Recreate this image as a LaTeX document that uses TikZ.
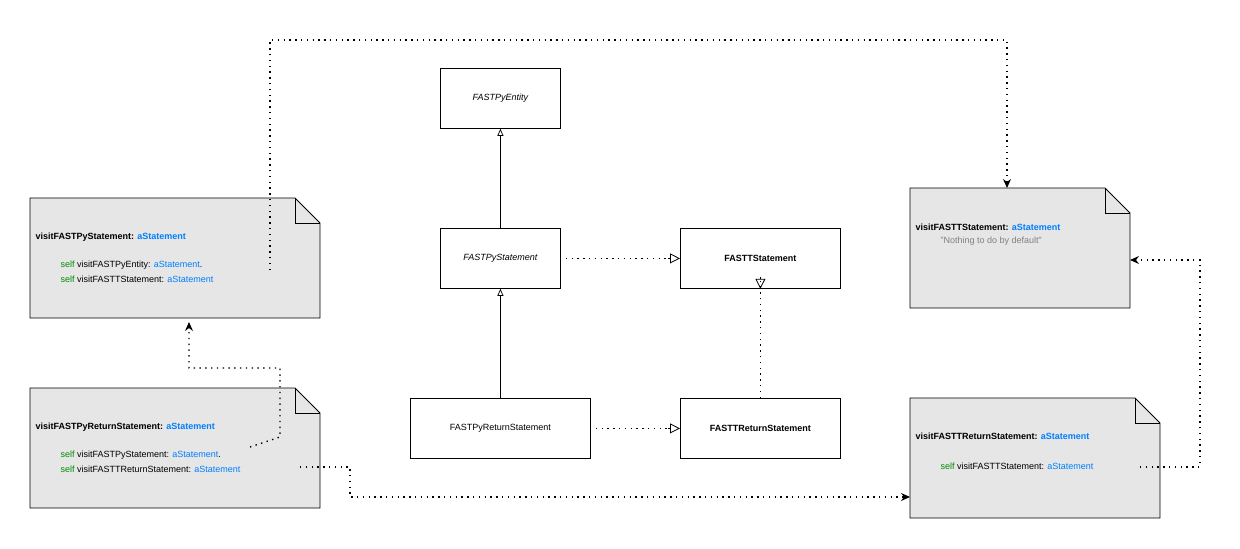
\documentclass[tikz,border=0pt]{standalone}
\usepackage{fontspec}
\setmainfont{Liberation Sans}
\usetikzlibrary{arrows.meta}
\definecolor{kw}{RGB}{0,140,0}
\definecolor{ar}{RGB}{0,127,255}
\definecolor{nt}{RGB}{230,230,230}
\begin{document}
\begin{tikzpicture}[x=1pt,y=-1pt,font=\fontsize{9}{11}\selectfont,
  cls/.style={draw,line width=0.8pt,fill=white,minimum width=#1,minimum height=60,inner sep=0,anchor=north west},
  dot/.style={line width=1.4pt,dash pattern=on 1.4pt off 4.4pt},
  gen/.style={-{Triangle[open,length=10,width=10]},line width=0.8pt},
  sgen/.style={-{Triangle[open,length=7,width=6]},line width=0.7pt},
  call/.style={dot,-{Stealth[length=9,width=8,inset=3]}}]
\useasboundingbox (0,0) rectangle (1240,549);
\newcommand\note[5]{% x1,y1,x2,y2,name
  \draw[fill=nt,line width=0.8pt] (#1,#2) -- (#3-25,#2) -- (#3,#2+25) -- (#3,#4) -- (#1,#4) -- cycle;
  \draw[line width=0.8pt] (#3-25,#2) -- (#3-25,#2+25) -- (#3,#2+25);
  \coordinate (#5) at (#1,#2);}
\note{30}{198}{320}{318}{n1}
\note{30}{388}{320}{508}{n2}
\note{910}{188}{1130}{308}{n3}
\note{910}{398}{1160}{518}{n4}
\node[anchor=west] (t1) at (32,237) {\textbf{visitFASTPyStatement: \textcolor{ar}{aStatement}}};
\node[anchor=west] (l1a) at (57,265) {\textcolor{kw}{self} visitFASTPyEntity: \textcolor{ar}{aStatement}.};
\node[anchor=west] (l1b) at (57,279) {\textcolor{kw}{self} visitFASTTStatement: \textcolor{ar}{aStatement}};
\node[anchor=west] (t2) at (32,427) {\textbf{visitFASTPyReturnStatement: \textcolor{ar}{aStatement}}};
\node[anchor=west] (l2a) at (57,455) {\textcolor{kw}{self} visitFASTPyStatement: \textcolor{ar}{aStatement}.};
\node[anchor=west] (l2b) at (57,469) {\textcolor{kw}{self} visitFASTTReturnStatement: \textcolor{ar}{aStatement}};
\node[anchor=west] (t3) at (912,227) {\textbf{visitFASTTStatement: \textcolor{ar}{aStatement}}};
\node[anchor=west] (l3) at (937,241) {\textcolor{gray}{"Nothing to do by default"}};
\node[anchor=west] (t4) at (912,436) {\textbf{visitFASTTReturnStatement: \textcolor{ar}{aStatement}}};
\node[anchor=west] (l4) at (937,466) {\textcolor{kw}{self} visitFASTTStatement: \textcolor{ar}{aStatement}};

\node[cls=120] (pe) at (440,68) {\itshape FASTPyEntity};
\node[cls=120] (ps) at (440,228) {\itshape FASTPyStatement};
\node[cls=160] (ts) at (680,228) {\bfseries FASTTStatement};
\node[cls=180] (pr) at (410,398) {FASTPyReturnStatement};
\node[cls=160] (tr) at (680,398) {\bfseries FASTTReturnStatement};

\draw[sgen] (ps.north) -- (pe.south);
\draw[sgen] (pr.north) -- (ps.south);
\draw[dot] ([xshift=5]ps.east) -- ([xshift=-12]ts.west);
\draw[gen] ([xshift=-12]ts.west) -- (ts.west);
\draw[dot] ([xshift=5]pr.east) -- ([xshift=-12]tr.west);
\draw[gen] ([xshift=-12]tr.west) -- (tr.west);
\draw[dot] (tr.north) -- ([yshift=12]ts.south);
\draw[gen] ([yshift=12]ts.south) -- (ts.south);

\coordinate (a1) at (270,270);
\coordinate (e1) at (1007,188);
\draw[call] (a1) -- (270,40) -- (1007,40) -- (e1);
\coordinate (a2) at (250,447);
\coordinate (e2) at (189,322);
\draw[call] (a2) -- (280,437) -- (280,368) -- (189,368) -- (e2);
\coordinate (a3) at (300,467);
\coordinate (e3) at (910,497);
\draw[call] (a3) -- (350,467) -- (350,497) -- (e3);
\coordinate (a4) at (1140,467);
\coordinate (e4) at (1130,260);
\draw[call] (a4) -- (1200,467) -- (1200,260) -- (e4);
\end{tikzpicture}
\end{document}
